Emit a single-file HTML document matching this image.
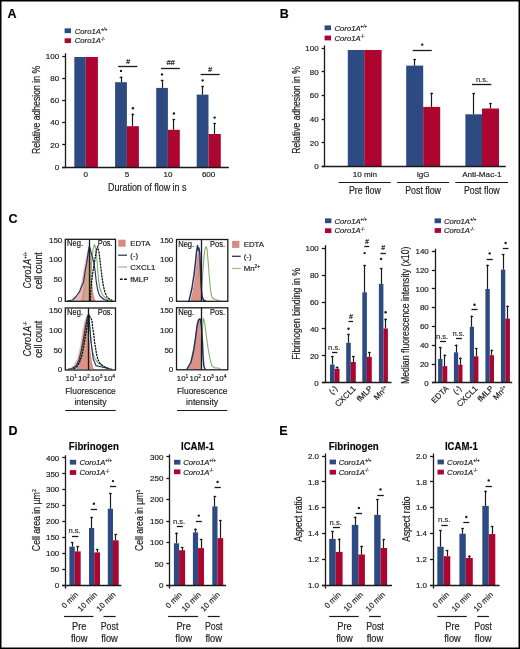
<!DOCTYPE html>
<html><head><meta charset="utf-8"><style>
html,body{margin:0;padding:0;background:#fff;}
svg{display:block;font-family:"Liberation Sans", sans-serif;will-change:transform;}
text{stroke:#222;stroke-width:0.18px;}
</style></head><body>
<svg width="520" height="649" viewBox="0 0 520 649" fill="#222">
<rect width="520" height="649" fill="#fff"/>
<text x="7.4" y="17.6" font-size="12.5" font-weight="bold" fill="#000">A</text>
<rect x="64.6" y="28.35" width="6.4" height="4.8" fill="#2e4a82"/>
<rect x="64.6" y="38.3" width="6.4" height="4.8" fill="#ab0530"/>
<text x="74.8" y="33.52" font-size="7.7" font-style="italic">Coro1A<tspan font-size="4.47" dy="-2.54" font-style="normal">+/+</tspan></text>
<text x="74.8" y="43.47" font-size="7.7" font-style="italic">Coro1A<tspan font-size="4.47" dy="-2.54" font-style="normal">-/-</tspan></text>
<line x1="65.5" y1="53.3" x2="65.5" y2="167.6" stroke="#1a1a1a" stroke-width="1.3"/>
<line x1="62.2" y1="56.5" x2="65.4" y2="56.5" stroke="#1a1a1a" stroke-width="1.3"/>
<text x="59.2" y="58.84" font-size="8" text-anchor="end">100</text>
<line x1="62.2" y1="78.5" x2="65.4" y2="78.5" stroke="#1a1a1a" stroke-width="1.3"/>
<text x="59.2" y="81.04" font-size="8" text-anchor="end">80</text>
<line x1="62.2" y1="100.5" x2="65.4" y2="100.5" stroke="#1a1a1a" stroke-width="1.3"/>
<text x="59.2" y="103.24" font-size="8" text-anchor="end">60</text>
<line x1="62.2" y1="122.5" x2="65.4" y2="122.5" stroke="#1a1a1a" stroke-width="1.3"/>
<text x="59.2" y="125.44" font-size="8" text-anchor="end">40</text>
<line x1="62.2" y1="144.5" x2="65.4" y2="144.5" stroke="#1a1a1a" stroke-width="1.3"/>
<text x="59.2" y="147.64" font-size="8" text-anchor="end">20</text>
<line x1="62.2" y1="167.5" x2="65.4" y2="167.5" stroke="#1a1a1a" stroke-width="1.3"/>
<text x="59.2" y="169.84" font-size="8" text-anchor="end">0</text>
<rect x="74.3" y="57" width="11.5" height="110" fill="#2e4a82"/>
<rect x="85.8" y="57" width="12.1" height="110" fill="#ab0530"/>
<rect x="115.1" y="82.2" width="11.8" height="84.8" fill="#2e4a82"/>
<rect x="126.9" y="126.2" width="12" height="40.8" fill="#ab0530"/>
<rect x="156.2" y="87.9" width="11.7" height="79.1" fill="#2e4a82"/>
<rect x="167.9" y="129.8" width="11.9" height="37.2" fill="#ab0530"/>
<rect x="196.7" y="94.6" width="11.8" height="72.4" fill="#2e4a82"/>
<rect x="208.5" y="134" width="12.3" height="33" fill="#ab0530"/>
<line x1="121.5" y1="82.2" x2="121.5" y2="76.5" stroke="#1a1a1a" stroke-width="1.2"/>
<line x1="119.7" y1="77.5" x2="122.3" y2="77.5" stroke="#1a1a1a" stroke-width="1.3"/>
<line x1="132.5" y1="126.2" x2="132.5" y2="113.5" stroke="#1a1a1a" stroke-width="1.2"/>
<line x1="131.6" y1="114.5" x2="134.2" y2="114.5" stroke="#1a1a1a" stroke-width="1.3"/>
<line x1="162.5" y1="87.9" x2="162.5" y2="79.8" stroke="#1a1a1a" stroke-width="1.2"/>
<line x1="160.75" y1="80.5" x2="163.35" y2="80.5" stroke="#1a1a1a" stroke-width="1.3"/>
<line x1="173.5" y1="129.8" x2="173.5" y2="119.3" stroke="#1a1a1a" stroke-width="1.2"/>
<line x1="172.55" y1="119.5" x2="175.15" y2="119.5" stroke="#1a1a1a" stroke-width="1.3"/>
<line x1="202.5" y1="94.6" x2="202.5" y2="86" stroke="#1a1a1a" stroke-width="1.2"/>
<line x1="201.3" y1="86.5" x2="203.9" y2="86.5" stroke="#1a1a1a" stroke-width="1.3"/>
<line x1="214.5" y1="134" x2="214.5" y2="123" stroke="#1a1a1a" stroke-width="1.2"/>
<line x1="213.35" y1="123.5" x2="215.95" y2="123.5" stroke="#1a1a1a" stroke-width="1.3"/>
<line x1="62.2" y1="167.5" x2="228.8" y2="167.5" stroke="#1a1a1a" stroke-width="1.3"/>
<circle cx="121" cy="70.9" r="1.2" fill="#1a1a1a"/>
<circle cx="132.9" cy="108.2" r="1.2" fill="#1a1a1a"/>
<circle cx="162" cy="74.4" r="1.2" fill="#1a1a1a"/>
<circle cx="173.9" cy="113.5" r="1.2" fill="#1a1a1a"/>
<circle cx="202.6" cy="80.4" r="1.2" fill="#1a1a1a"/>
<circle cx="214.6" cy="117.6" r="1.2" fill="#1a1a1a"/>
<line x1="118.1" y1="66.5" x2="137.4" y2="66.5" stroke="#1a1a1a" stroke-width="1.3"/>
<text x="128" y="63.5" font-size="7.4" text-anchor="middle" font-style="italic">#</text>
<line x1="161" y1="68.5" x2="179.8" y2="68.5" stroke="#1a1a1a" stroke-width="1.3"/>
<text x="170.6" y="65" font-size="7.4" text-anchor="middle" font-style="italic">##</text>
<line x1="200.6" y1="74.5" x2="219.6" y2="74.5" stroke="#1a1a1a" stroke-width="1.3"/>
<text x="210" y="71.6" font-size="7.4" text-anchor="middle" font-style="italic">#</text>
<text x="85.8" y="177.2" font-size="8" text-anchor="middle">0</text>
<text x="126.9" y="177.2" font-size="8" text-anchor="middle">5</text>
<text x="168" y="177.2" font-size="8" text-anchor="middle">10</text>
<text x="208.6" y="177.2" font-size="8" text-anchor="middle">600</text>
<text x="147.3" y="190.7" font-size="10.3" text-anchor="middle" textLength="78.4" lengthAdjust="spacingAndGlyphs">Duration of flow in s</text>
<text x="39.8" y="110" font-size="10.3" text-anchor="middle" textLength="88.2" lengthAdjust="spacingAndGlyphs" transform="rotate(-90 39.8 110)">Relative adhesion in %</text>
<text x="279.8" y="17.6" font-size="12.5" font-weight="bold" fill="#000">B</text>
<rect x="324.6" y="25.4" width="6.4" height="4.8" fill="#2e4a82"/>
<rect x="324.6" y="35.6" width="6.4" height="4.8" fill="#ab0530"/>
<text x="334.5" y="30.57" font-size="7.7" font-style="italic">Coro1A<tspan font-size="4.47" dy="-2.54" font-style="normal">+/+</tspan></text>
<text x="334.5" y="40.77" font-size="7.7" font-style="italic">Coro1A<tspan font-size="4.47" dy="-2.54" font-style="normal">-/-</tspan></text>
<line x1="324.5" y1="45.5" x2="324.5" y2="166.5" stroke="#1a1a1a" stroke-width="1.3"/>
<line x1="321.6" y1="48.5" x2="324.8" y2="48.5" stroke="#1a1a1a" stroke-width="1.3"/>
<text x="318.6" y="50.94" font-size="8" text-anchor="end">100</text>
<line x1="321.6" y1="71.5" x2="324.8" y2="71.5" stroke="#1a1a1a" stroke-width="1.3"/>
<text x="318.6" y="74.64" font-size="8" text-anchor="end">80</text>
<line x1="321.6" y1="95.5" x2="324.8" y2="95.5" stroke="#1a1a1a" stroke-width="1.3"/>
<text x="318.6" y="98.34" font-size="8" text-anchor="end">60</text>
<line x1="321.6" y1="119.5" x2="324.8" y2="119.5" stroke="#1a1a1a" stroke-width="1.3"/>
<text x="318.6" y="122.04" font-size="8" text-anchor="end">40</text>
<line x1="321.6" y1="142.5" x2="324.8" y2="142.5" stroke="#1a1a1a" stroke-width="1.3"/>
<text x="318.6" y="145.74" font-size="8" text-anchor="end">20</text>
<line x1="321.6" y1="166.5" x2="324.8" y2="166.5" stroke="#1a1a1a" stroke-width="1.3"/>
<text x="318.6" y="169.34" font-size="8" text-anchor="end">0</text>
<rect x="347.8" y="50" width="16.4" height="116.5" fill="#2e4a82"/>
<rect x="364.2" y="50" width="17.4" height="116.5" fill="#ab0530"/>
<rect x="406.2" y="65.6" width="17" height="100.9" fill="#2e4a82"/>
<rect x="423.2" y="106.9" width="17" height="59.6" fill="#ab0530"/>
<rect x="465.4" y="114.3" width="16.6" height="52.2" fill="#2e4a82"/>
<rect x="482" y="108.5" width="17" height="58" fill="#ab0530"/>
<line x1="414.5" y1="65.6" x2="414.5" y2="59" stroke="#1a1a1a" stroke-width="1.2"/>
<line x1="413.4" y1="59.5" x2="416" y2="59.5" stroke="#1a1a1a" stroke-width="1.3"/>
<line x1="431.5" y1="106.9" x2="431.5" y2="92.7" stroke="#1a1a1a" stroke-width="1.2"/>
<line x1="430.4" y1="93.5" x2="433" y2="93.5" stroke="#1a1a1a" stroke-width="1.3"/>
<line x1="473.5" y1="114.3" x2="473.5" y2="93" stroke="#1a1a1a" stroke-width="1.2"/>
<line x1="472.4" y1="93.5" x2="475" y2="93.5" stroke="#1a1a1a" stroke-width="1.3"/>
<line x1="490.5" y1="108.5" x2="490.5" y2="103" stroke="#1a1a1a" stroke-width="1.2"/>
<line x1="489.2" y1="103.5" x2="491.8" y2="103.5" stroke="#1a1a1a" stroke-width="1.3"/>
<line x1="321.8" y1="166.5" x2="505.8" y2="166.5" stroke="#1a1a1a" stroke-width="1.3"/>
<line x1="412.7" y1="50.5" x2="431.8" y2="50.5" stroke="#1a1a1a" stroke-width="1.3"/>
<circle cx="422.2" cy="44.6" r="1.2" fill="#1a1a1a"/>
<line x1="472" y1="84.5" x2="491.3" y2="84.5" stroke="#1a1a1a" stroke-width="1.3"/>
<text x="482" y="82.4" font-size="8" text-anchor="middle" fill="#333" textLength="12.2" lengthAdjust="spacingAndGlyphs">n.s.</text>
<text x="364.9" y="177.3" font-size="7.8" text-anchor="middle" textLength="24.4" lengthAdjust="spacingAndGlyphs">10 min</text>
<text x="423.1" y="177.4" font-size="8" text-anchor="middle" textLength="12.9" lengthAdjust="spacingAndGlyphs">IgG</text>
<text x="481.8" y="177.3" font-size="7.8" text-anchor="middle" textLength="39.3" lengthAdjust="spacingAndGlyphs">Anti-Mac-1</text>
<line x1="338.5" y1="182.5" x2="390.7" y2="182.5" stroke="#1a1a1a" stroke-width="1.2"/>
<line x1="397.1" y1="182.5" x2="449.2" y2="182.5" stroke="#1a1a1a" stroke-width="1.2"/>
<line x1="455.4" y1="182.5" x2="508.1" y2="182.5" stroke="#1a1a1a" stroke-width="1.2"/>
<text x="364.9" y="194" font-size="10" text-anchor="middle" textLength="31.9" lengthAdjust="spacingAndGlyphs">Pre flow</text>
<text x="423.1" y="194" font-size="10" text-anchor="middle" textLength="35.8" lengthAdjust="spacingAndGlyphs">Post flow</text>
<text x="481.8" y="194" font-size="10" text-anchor="middle" textLength="35.8" lengthAdjust="spacingAndGlyphs">Post flow</text>
<text x="299.8" y="110" font-size="10.3" text-anchor="middle" textLength="87.6" lengthAdjust="spacingAndGlyphs" transform="rotate(-90 299.8 110)">Relative adhesion in %</text>
<text x="8.6" y="222.5" font-size="12.5" font-weight="bold" fill="#000">C</text>
<path d="M72 301 L76 297 L79 291 L81.5 282 L83.3 271 L85 262 L87 252 L88.5 247 L89.3 246 L90.5 253 L91.2 262 L91.5 272 L92.1 282 L93 292 L94.5 299 L95.5 301 Z" fill="#e8b9b6" stroke="none" stroke-width="1.1" stroke-linejoin="round" stroke-linecap="round"/>
<path d="M81 301 L83 290 L84.5 278 L86 265 L87.5 255 L89 249 L90.5 254 L91.2 262 L91.5 272 L92.1 282 L93 292 L94.5 299 L95.5 301 Z" fill="#dc9284" stroke="none" stroke-width="1.1" stroke-linejoin="round" stroke-linecap="round"/>
<path d="M84.5 301 L85.5 285 L86.5 272 L87.5 262 L88.5 252 L89.3 249 L89.6 301 Z" fill="#c8ab88" stroke="none" stroke-width="1.1" stroke-linejoin="round" stroke-linecap="round"/>
<path d="M89.3 300 L90.3 285 L91.2 268 L92.3 255 L93.3 248 L94.5 244.5 L95.7 248 L96.8 258 L97.6 268 L98.4 278 L99.5 287 L101.5 293 L104 296.5 L107 299.3 L110 300.5" fill="none" stroke="#7fb068" stroke-width="1.1" stroke-linejoin="round" stroke-linecap="round"/>
<path d="M68 300.7 L72.5 300 L76 296.5 L79.7 291.4 L83.6 281.6 L85.6 268.5 L86.9 262 L88.3 252 L89.3 246 L90.5 250 L92 256 L94 263 L95.2 272 L96.3 282 L97.5 289 L98.7 293.4 L100 296 L104 299.5 L108 300.7" fill="none" stroke="#1f3466" stroke-width="1.15" stroke-linejoin="round" stroke-linecap="round"/>
<path d="M90.3 300.3 L90.8 292 L91.4 284 L92.3 276 L93.5 268 L94.8 260 L96.3 251 L97.5 246.5 L99 252 L100 260 L101 269 L102 277 L103.2 285 L104.8 292 L107 297 L110 299.5 L112 300.3" fill="none" stroke="#111" stroke-width="1.3" stroke-linejoin="round" stroke-linecap="round" stroke-dasharray="1.2 1.8"/>
<path d="M69.5 369 L73 366 L76.9 359.3 L79.6 348.4 L81.9 334.7 L83.7 323.8 L85.1 320.2 L86.9 315.6 L88.3 318 L89.2 339.3 L90.5 352.9 L92.4 364.7 L93.5 369 Z" fill="#e8b9b6" stroke="none" stroke-width="1.1" stroke-linejoin="round" stroke-linecap="round"/>
<path d="M77 369 L79.5 358 L81.5 345 L83.3 332 L85 322 L86.9 316.5 L88.3 319 L89.2 339.3 L90.5 352.9 L92.4 364.7 L93.5 369 Z" fill="#dc9284" stroke="none" stroke-width="1.1" stroke-linejoin="round" stroke-linecap="round"/>
<path d="M76 368 L79.6 362.9 L82 352 L84.2 339.3 L85.8 327 L86.9 317.5 L87.8 314.7 L89 320 L90.1 330.2 L91.9 348.4 L94.2 357.5 L97.8 362.9 L103 366.5 L109 368.6" fill="none" stroke="#7fb068" stroke-width="1.1" stroke-linejoin="round" stroke-linecap="round"/>
<path d="M68 369.3 L72 368.5 L76 366 L79 360 L81 352 L83 342 L85 330 L86.8 320 L88 315.5 L89 314.5 L89.6 325.6 L91 342 L93.3 359.3 L96 365.6 L99.6 366.5 L104 367.5 L108 368.5 L112 369.3" fill="none" stroke="#1f3466" stroke-width="1.15" stroke-linejoin="round" stroke-linecap="round"/>
<path d="M74 368.6 L77 366.5 L79.6 362 L81.9 355.6 L83.3 348.4 L84.6 341.1 L85.5 335.6 L86.5 330.2 L87.8 321.1 L89.2 315.6 L91.9 320.2 L92.8 328.4 L93.7 333.8 L94.6 342 L95.3 346.5 L96.5 353.8 L97.8 359.3 L99.6 362.9 L103 366 L108 368.3" fill="none" stroke="#111" stroke-width="1.3" stroke-linejoin="round" stroke-linecap="round" stroke-dasharray="1.2 1.8"/>
<path d="M190.5 301 L193.8 285 L195.6 270 L196.9 258 L198 251 L199 250 L199.8 255 L200.2 270 L200.5 285 L201 298 L202 301 Z" fill="#dc9284" stroke="none" stroke-width="1.1" stroke-linejoin="round" stroke-linecap="round"/>
<path d="M201 300.5 L202 285 L203 270 L204 257 L205 249 L206.2 246.5 L207 249 L208 260 L209 273 L210 285 L211 294 L212.5 298 L215 299.5 L217 300 L219 300.5" fill="none" stroke="#7fb068" stroke-width="1.1" stroke-linejoin="round" stroke-linecap="round"/>
<path d="M189 301 L192 288 L194 275 L195.5 262 L196.5 252 L197.5 245.5 L198.2 250 L198.8 248 L199.8 253 L200.5 270 L201 285 L202 296 L203.5 300 L205.5 301" fill="none" stroke="#1f3466" stroke-width="1.5" stroke-linejoin="round" stroke-linecap="round"/>
<path d="M188 369 L192 358 L194.5 343 L196 331 L197.5 322 L199 320 L199.8 319.5 L200.5 328 L201 348 L201.5 364 L202 369 Z" fill="#dc9284" stroke="none" stroke-width="1.1" stroke-linejoin="round" stroke-linecap="round"/>
<path d="M201 368 L201.5 348 L202 333 L203.5 318 L205 325 L206 333 L207 341 L208 348 L209 354 L210.5 361 L212 366 L215 368 L218 368 L220 368.5" fill="none" stroke="#7fb068" stroke-width="1.1" stroke-linejoin="round" stroke-linecap="round"/>
<path d="M187 369 L191 362 L193.5 351 L195.5 338 L197 326 L198.5 320 L199.5 319 L200.5 319.5 L201.5 328 L202.5 343 L203 356 L203.8 366 L205 369" fill="none" stroke="#1f3466" stroke-width="1.5" stroke-linejoin="round" stroke-linecap="round"/>
<rect x="65.3" y="239.3" width="50.2" height="62" fill="none" stroke="#1a1a1a" stroke-width="1.3"/>
<line x1="89.5" y1="239.3" x2="89.5" y2="301.3" stroke="#1a1a1a" stroke-width="1.3"/>
<text x="67" y="246.4" font-size="8.3" fill="#111" textLength="16" lengthAdjust="spacingAndGlyphs">Neg.</text>
<text x="112.7" y="246.4" font-size="8.3" text-anchor="end" fill="#111" textLength="15" lengthAdjust="spacingAndGlyphs">Pos.</text>
<rect x="65.3" y="308" width="50.2" height="62" fill="none" stroke="#1a1a1a" stroke-width="1.3"/>
<line x1="88.5" y1="308" x2="88.5" y2="370" stroke="#1a1a1a" stroke-width="1.3"/>
<text x="67" y="315.1" font-size="8.3" fill="#111" textLength="16" lengthAdjust="spacingAndGlyphs">Neg.</text>
<text x="112.7" y="315.1" font-size="8.3" text-anchor="end" fill="#111" textLength="15" lengthAdjust="spacingAndGlyphs">Pos.</text>
<rect x="176.5" y="239.5" width="51.3" height="61.8" fill="none" stroke="#1a1a1a" stroke-width="1.3"/>
<line x1="201.5" y1="239.5" x2="201.5" y2="301.3" stroke="#1a1a1a" stroke-width="1.3"/>
<text x="178.2" y="246.6" font-size="8.3" fill="#111" textLength="16" lengthAdjust="spacingAndGlyphs">Neg.</text>
<text x="225" y="246.6" font-size="8.3" text-anchor="end" fill="#111" textLength="15" lengthAdjust="spacingAndGlyphs">Pos.</text>
<rect x="176.5" y="307.8" width="51.3" height="62" fill="none" stroke="#1a1a1a" stroke-width="1.3"/>
<line x1="201.5" y1="307.8" x2="201.5" y2="369.8" stroke="#1a1a1a" stroke-width="1.3"/>
<text x="178.2" y="314.9" font-size="8.3" fill="#111" textLength="16" lengthAdjust="spacingAndGlyphs">Neg.</text>
<text x="225" y="314.9" font-size="8.3" text-anchor="end" fill="#111" textLength="15" lengthAdjust="spacingAndGlyphs">Pos.</text>
<text x="62.3" y="242.5" font-size="8" text-anchor="end">150</text>
<text x="62.3" y="262.4" font-size="8" text-anchor="end">100</text>
<text x="62.3" y="282.3" font-size="8" text-anchor="end">50</text>
<text x="62.3" y="302.3" font-size="8" text-anchor="end">0</text>
<text x="62.3" y="313.4" font-size="8" text-anchor="end">150</text>
<text x="62.3" y="333" font-size="8" text-anchor="end">100</text>
<text x="62.3" y="352.5" font-size="8" text-anchor="end">50</text>
<text x="62.3" y="372" font-size="8" text-anchor="end">0</text>
<text x="173.3" y="242.5" font-size="8" text-anchor="end">150</text>
<text x="173.3" y="262.4" font-size="8" text-anchor="end">100</text>
<text x="173.3" y="282.3" font-size="8" text-anchor="end">50</text>
<text x="173.3" y="302.3" font-size="8" text-anchor="end">0</text>
<text x="173.3" y="313.4" font-size="8" text-anchor="end">150</text>
<text x="173.3" y="333" font-size="8" text-anchor="end">100</text>
<text x="173.3" y="352.5" font-size="8" text-anchor="end">50</text>
<text x="173.3" y="372" font-size="8" text-anchor="end">0</text>
<text x="65.4" y="380.8" font-size="7.9">10<tspan font-size="4.9" dy="-2.6">1</tspan></text>
<text x="78.12" y="380.8" font-size="7.9">10<tspan font-size="4.9" dy="-2.6">2</tspan></text>
<text x="90.85" y="380.8" font-size="7.9">10<tspan font-size="4.9" dy="-2.6">3</tspan></text>
<text x="103.57" y="380.8" font-size="7.9">10<tspan font-size="4.9" dy="-2.6">4</tspan></text>
<text x="176.8" y="380.8" font-size="7.9">10<tspan font-size="4.9" dy="-2.6">1</tspan></text>
<text x="189.52" y="380.8" font-size="7.9">10<tspan font-size="4.9" dy="-2.6">2</tspan></text>
<text x="202.25" y="380.8" font-size="7.9">10<tspan font-size="4.9" dy="-2.6">3</tspan></text>
<text x="214.97" y="380.8" font-size="7.9">10<tspan font-size="4.9" dy="-2.6">4</tspan></text>
<text x="90.5" y="394.2" font-size="9.8" text-anchor="middle" textLength="50.6" lengthAdjust="spacingAndGlyphs">Fluorescence</text>
<text x="90.5" y="405.2" font-size="9.8" text-anchor="middle" textLength="32.2" lengthAdjust="spacingAndGlyphs">intensity</text>
<line x1="65.2" y1="410.5" x2="115.8" y2="410.5" stroke="#1a1a1a" stroke-width="1.2"/>
<text x="202.15" y="394.2" font-size="9.8" text-anchor="middle" textLength="50.3" lengthAdjust="spacingAndGlyphs">Fluorescence</text>
<text x="202.15" y="405.2" font-size="9.8" text-anchor="middle" textLength="32.2" lengthAdjust="spacingAndGlyphs">intensity</text>
<line x1="177" y1="410.5" x2="227.3" y2="410.5" stroke="#1a1a1a" stroke-width="1.2"/>
<text x="31.3" y="270.2" font-size="10.3" font-style="italic" text-anchor="middle" transform="rotate(-90 31.3 270.2)" textLength="36.7" lengthAdjust="spacingAndGlyphs">Coro1A<tspan font-size="5.8" dy="-3.8" font-style="normal">+/+</tspan></text>
<text x="42.4" y="270.6" font-size="10" text-anchor="middle" textLength="36.7" lengthAdjust="spacingAndGlyphs" transform="rotate(-90 42.4 270.6)">cell count</text>
<text x="31" y="338.9" font-size="10.3" font-style="italic" text-anchor="middle" transform="rotate(-90 31 338.9)" textLength="35.4" lengthAdjust="spacingAndGlyphs">Coro1A<tspan font-size="5.8" dy="-3.8" font-style="normal">-/-</tspan></text>
<text x="42.5" y="339.3" font-size="10" text-anchor="middle" textLength="37" lengthAdjust="spacingAndGlyphs" transform="rotate(-90 42.5 339.3)">cell count</text>
<rect x="118.3" y="239.7" width="7.3" height="7" fill="#d58c80"/>
<line x1="118.1" y1="255.2" x2="127" y2="255.2" stroke="#2b3766" stroke-width="1.3"/>
<line x1="118.1" y1="267" x2="127" y2="267" stroke="#a3bf92" stroke-width="1.3"/>
<line x1="119.9" y1="279.3" x2="127" y2="279.3" stroke="#111" stroke-width="1.4" stroke-dasharray="2.8 1.4"/>
<text x="130.2" y="246" font-size="7.8">EDTA</text>
<text x="130.2" y="258" font-size="7.8">(-)</text>
<text x="130.2" y="269.8" font-size="7.8">CXCL1</text>
<text x="130.2" y="282.1" font-size="7.8">fMLP</text>
<rect x="232.1" y="240.9" width="7.3" height="7" fill="#d58c80"/>
<line x1="231.9" y1="256.3" x2="240.8" y2="256.3" stroke="#2b3766" stroke-width="1.3"/>
<line x1="231.9" y1="268.5" x2="240.8" y2="268.5" stroke="#a3bf92" stroke-width="1.3"/>
<text x="243.7" y="247.2" font-size="7.8">EDTA</text>
<text x="243.7" y="259.1" font-size="7.8">(-)</text>
<text x="243.7" y="271.3" font-size="7.8">Mn<tspan font-size="4.8" dy="-3">2+</tspan></text>
<rect x="325" y="218.4" width="6.4" height="4.8" fill="#2e4a82"/>
<rect x="325" y="228.3" width="6.4" height="4.8" fill="#ab0530"/>
<text x="334.5" y="223.57" font-size="7.7" font-style="italic">Coro1A<tspan font-size="4.47" dy="-2.54" font-style="normal">+/+</tspan></text>
<text x="334.5" y="233.47" font-size="7.7" font-style="italic">Coro1A<tspan font-size="4.47" dy="-2.54" font-style="normal">-/-</tspan></text>
<line x1="325.5" y1="245.2" x2="325.5" y2="382.7" stroke="#1a1a1a" stroke-width="1.3"/>
<line x1="321.8" y1="248.5" x2="325" y2="248.5" stroke="#1a1a1a" stroke-width="1.3"/>
<text x="318.8" y="250.84" font-size="8" text-anchor="end">100</text>
<line x1="321.8" y1="275.5" x2="325" y2="275.5" stroke="#1a1a1a" stroke-width="1.3"/>
<text x="318.8" y="277.94" font-size="8" text-anchor="end">80</text>
<line x1="321.8" y1="302.5" x2="325" y2="302.5" stroke="#1a1a1a" stroke-width="1.3"/>
<text x="318.8" y="304.84" font-size="8" text-anchor="end">60</text>
<line x1="321.8" y1="328.5" x2="325" y2="328.5" stroke="#1a1a1a" stroke-width="1.3"/>
<text x="318.8" y="331.74" font-size="8" text-anchor="end">40</text>
<line x1="321.8" y1="355.5" x2="325" y2="355.5" stroke="#1a1a1a" stroke-width="1.3"/>
<text x="318.8" y="358.64" font-size="8" text-anchor="end">20</text>
<line x1="321.8" y1="382.5" x2="325" y2="382.5" stroke="#1a1a1a" stroke-width="1.3"/>
<text x="318.8" y="385.54" font-size="8" text-anchor="end">0</text>
<rect x="330" y="364.6" width="4.6" height="18.1" fill="#2e4a82"/>
<rect x="334.6" y="368.8" width="4.9" height="13.9" fill="#ab0530"/>
<rect x="346.2" y="342.8" width="4.6" height="39.9" fill="#2e4a82"/>
<rect x="350.8" y="362" width="5" height="20.7" fill="#ab0530"/>
<rect x="362.3" y="292.3" width="4.6" height="90.4" fill="#2e4a82"/>
<rect x="366.9" y="356.9" width="4.9" height="25.8" fill="#ab0530"/>
<rect x="378.9" y="283.8" width="4.5" height="98.9" fill="#2e4a82"/>
<rect x="383.4" y="328.5" width="4.5" height="54.2" fill="#ab0530"/>
<line x1="332.5" y1="364.6" x2="332.5" y2="356.2" stroke="#1a1a1a" stroke-width="1.2"/>
<line x1="331" y1="356.5" x2="333.6" y2="356.5" stroke="#1a1a1a" stroke-width="1.3"/>
<line x1="337.5" y1="368.8" x2="337.5" y2="366.5" stroke="#1a1a1a" stroke-width="1.2"/>
<line x1="335.75" y1="367.5" x2="338.35" y2="367.5" stroke="#1a1a1a" stroke-width="1.3"/>
<line x1="348.5" y1="342.8" x2="348.5" y2="333.8" stroke="#1a1a1a" stroke-width="1.2"/>
<line x1="347.2" y1="334.5" x2="349.8" y2="334.5" stroke="#1a1a1a" stroke-width="1.3"/>
<line x1="353.5" y1="362" x2="353.5" y2="356.2" stroke="#1a1a1a" stroke-width="1.2"/>
<line x1="352" y1="356.5" x2="354.6" y2="356.5" stroke="#1a1a1a" stroke-width="1.3"/>
<line x1="364.5" y1="292.3" x2="364.5" y2="264.9" stroke="#1a1a1a" stroke-width="1.2"/>
<line x1="363.3" y1="265.5" x2="365.9" y2="265.5" stroke="#1a1a1a" stroke-width="1.3"/>
<line x1="369.5" y1="356.9" x2="369.5" y2="352.3" stroke="#1a1a1a" stroke-width="1.2"/>
<line x1="368.05" y1="352.5" x2="370.65" y2="352.5" stroke="#1a1a1a" stroke-width="1.3"/>
<line x1="381.5" y1="283.8" x2="381.5" y2="268" stroke="#1a1a1a" stroke-width="1.2"/>
<line x1="379.85" y1="268.5" x2="382.45" y2="268.5" stroke="#1a1a1a" stroke-width="1.3"/>
<line x1="385.5" y1="328.5" x2="385.5" y2="318.5" stroke="#1a1a1a" stroke-width="1.2"/>
<line x1="384.35" y1="319.5" x2="386.95" y2="319.5" stroke="#1a1a1a" stroke-width="1.3"/>
<line x1="322" y1="382.5" x2="391.5" y2="382.5" stroke="#1a1a1a" stroke-width="1.3"/>
<line x1="332" y1="352.5" x2="337.4" y2="352.5" stroke="#1a1a1a" stroke-width="1.3"/>
<text x="334.2" y="350.1" font-size="8" text-anchor="middle" fill="#333" textLength="12.2" lengthAdjust="spacingAndGlyphs">n.s.</text>
<circle cx="348.5" cy="328.8" r="1.2" fill="#1a1a1a"/>
<line x1="348.5" y1="321.5" x2="353" y2="321.5" stroke="#1a1a1a" stroke-width="1.3"/>
<text x="350.9" y="319" font-size="6.8" text-anchor="middle" font-style="italic">#</text>
<circle cx="364.6" cy="253.1" r="1.2" fill="#1a1a1a"/>
<line x1="364.3" y1="246.5" x2="369.2" y2="246.5" stroke="#1a1a1a" stroke-width="1.3"/>
<text x="366.9" y="243.7" font-size="6.8" text-anchor="middle" font-style="italic">#</text>
<circle cx="381.1" cy="258.9" r="1.2" fill="#1a1a1a"/>
<line x1="380.5" y1="253.5" x2="385.8" y2="253.5" stroke="#1a1a1a" stroke-width="1.3"/>
<text x="383.2" y="249.8" font-size="6.8" text-anchor="middle" font-style="italic">#</text>
<circle cx="385.6" cy="312.3" r="1.2" fill="#1a1a1a"/>
<text x="337.8" y="389" font-size="8" text-anchor="end" transform="rotate(-45 337.8 389)">(-)</text>
<text x="356.5" y="389" font-size="8" text-anchor="end" transform="rotate(-45 356.5 389)">CXCL1</text>
<text x="373.1" y="389" font-size="8" text-anchor="end" transform="rotate(-45 373.1 389)">fMLP</text>
<text x="388.6" y="389" font-size="8" text-anchor="end" transform="rotate(-45 388.6 389)">Mn<tspan font-size="4.6" dy="-2.8">2+</tspan></text>
<text x="299.8" y="313.9" font-size="10.3" text-anchor="middle" textLength="91.9" lengthAdjust="spacingAndGlyphs" transform="rotate(-90 299.8 313.9)">Fibrinogen binding in %</text>
<rect x="434.6" y="218.4" width="6.4" height="4.8" fill="#2e4a82"/>
<rect x="434.6" y="228.1" width="6.4" height="4.8" fill="#ab0530"/>
<text x="443.9" y="223.57" font-size="7.7" font-style="italic">Coro1A<tspan font-size="4.47" dy="-2.54" font-style="normal">+/+</tspan></text>
<text x="443.9" y="233.27" font-size="7.7" font-style="italic">Coro1A<tspan font-size="4.47" dy="-2.54" font-style="normal">-/-</tspan></text>
<line x1="435.5" y1="248.7" x2="435.5" y2="382.7" stroke="#1a1a1a" stroke-width="1.3"/>
<line x1="431.8" y1="251.5" x2="435" y2="251.5" stroke="#1a1a1a" stroke-width="1.3"/>
<text x="428.8" y="254.04" font-size="8" text-anchor="end">140</text>
<line x1="431.8" y1="270.5" x2="435" y2="270.5" stroke="#1a1a1a" stroke-width="1.3"/>
<text x="428.8" y="272.84" font-size="8" text-anchor="end">120</text>
<line x1="431.8" y1="288.5" x2="435" y2="288.5" stroke="#1a1a1a" stroke-width="1.3"/>
<text x="428.8" y="291.64" font-size="8" text-anchor="end">100</text>
<line x1="431.8" y1="307.5" x2="435" y2="307.5" stroke="#1a1a1a" stroke-width="1.3"/>
<text x="428.8" y="310.44" font-size="8" text-anchor="end">80</text>
<line x1="431.8" y1="326.5" x2="435" y2="326.5" stroke="#1a1a1a" stroke-width="1.3"/>
<text x="428.8" y="329.24" font-size="8" text-anchor="end">60</text>
<line x1="431.8" y1="345.5" x2="435" y2="345.5" stroke="#1a1a1a" stroke-width="1.3"/>
<text x="428.8" y="348.04" font-size="8" text-anchor="end">40</text>
<line x1="431.8" y1="364.5" x2="435" y2="364.5" stroke="#1a1a1a" stroke-width="1.3"/>
<text x="428.8" y="366.84" font-size="8" text-anchor="end">20</text>
<line x1="431.8" y1="382.5" x2="435" y2="382.5" stroke="#1a1a1a" stroke-width="1.3"/>
<text x="428.8" y="385.54" font-size="8" text-anchor="end">0</text>
<rect x="438.1" y="358.9" width="4.4" height="23.8" fill="#2e4a82"/>
<rect x="442.5" y="366.1" width="4.8" height="16.6" fill="#ab0530"/>
<rect x="453.9" y="352.3" width="4.3" height="30.4" fill="#2e4a82"/>
<rect x="458.2" y="364.7" width="4.3" height="18" fill="#ab0530"/>
<rect x="469.8" y="326.7" width="4.2" height="56" fill="#2e4a82"/>
<rect x="474" y="356.3" width="4.4" height="26.4" fill="#ab0530"/>
<rect x="485.4" y="289" width="4.4" height="93.7" fill="#2e4a82"/>
<rect x="489.8" y="355.2" width="4.2" height="27.5" fill="#ab0530"/>
<rect x="500.9" y="269.6" width="4.4" height="113.1" fill="#2e4a82"/>
<rect x="505.3" y="318.5" width="4.6" height="64.2" fill="#ab0530"/>
<line x1="440.5" y1="358.9" x2="440.5" y2="347.1" stroke="#1a1a1a" stroke-width="1.2"/>
<line x1="439" y1="347.5" x2="441.6" y2="347.5" stroke="#1a1a1a" stroke-width="1.3"/>
<line x1="444.5" y1="366.1" x2="444.5" y2="354.5" stroke="#1a1a1a" stroke-width="1.2"/>
<line x1="443.6" y1="355.5" x2="446.2" y2="355.5" stroke="#1a1a1a" stroke-width="1.3"/>
<line x1="456.5" y1="352.3" x2="456.5" y2="344.5" stroke="#1a1a1a" stroke-width="1.2"/>
<line x1="454.75" y1="345.5" x2="457.35" y2="345.5" stroke="#1a1a1a" stroke-width="1.3"/>
<line x1="460.5" y1="364.7" x2="460.5" y2="357.5" stroke="#1a1a1a" stroke-width="1.2"/>
<line x1="459.05" y1="358.5" x2="461.65" y2="358.5" stroke="#1a1a1a" stroke-width="1.3"/>
<line x1="471.5" y1="326.7" x2="471.5" y2="315.6" stroke="#1a1a1a" stroke-width="1.2"/>
<line x1="470.6" y1="316.5" x2="473.2" y2="316.5" stroke="#1a1a1a" stroke-width="1.3"/>
<line x1="476.5" y1="356.3" x2="476.5" y2="348.3" stroke="#1a1a1a" stroke-width="1.2"/>
<line x1="474.9" y1="348.5" x2="477.5" y2="348.5" stroke="#1a1a1a" stroke-width="1.3"/>
<line x1="487.5" y1="289" x2="487.5" y2="264.7" stroke="#1a1a1a" stroke-width="1.2"/>
<line x1="486.3" y1="265.5" x2="488.9" y2="265.5" stroke="#1a1a1a" stroke-width="1.3"/>
<line x1="491.5" y1="355.2" x2="491.5" y2="349.7" stroke="#1a1a1a" stroke-width="1.2"/>
<line x1="490.6" y1="350.5" x2="493.2" y2="350.5" stroke="#1a1a1a" stroke-width="1.3"/>
<line x1="503.5" y1="269.6" x2="503.5" y2="254.3" stroke="#1a1a1a" stroke-width="1.2"/>
<line x1="501.8" y1="254.5" x2="504.4" y2="254.5" stroke="#1a1a1a" stroke-width="1.3"/>
<line x1="507.5" y1="318.5" x2="507.5" y2="305.6" stroke="#1a1a1a" stroke-width="1.2"/>
<line x1="506.3" y1="306.5" x2="508.9" y2="306.5" stroke="#1a1a1a" stroke-width="1.3"/>
<line x1="432" y1="382.5" x2="512.2" y2="382.5" stroke="#1a1a1a" stroke-width="1.3"/>
<line x1="440" y1="341.5" x2="445.9" y2="341.5" stroke="#1a1a1a" stroke-width="1.3"/>
<text x="442.1" y="338.8" font-size="8" text-anchor="middle" fill="#333" textLength="12.2" lengthAdjust="spacingAndGlyphs">n.s.</text>
<line x1="456" y1="338.5" x2="462" y2="338.5" stroke="#1a1a1a" stroke-width="1.3"/>
<text x="458.5" y="336.2" font-size="8" text-anchor="middle" fill="#333" textLength="12.2" lengthAdjust="spacingAndGlyphs">n.s.</text>
<line x1="471.5" y1="309.5" x2="477.6" y2="309.5" stroke="#1a1a1a" stroke-width="1.3"/>
<circle cx="474.5" cy="304.7" r="1.2" fill="#1a1a1a"/>
<line x1="486.6" y1="259.5" x2="492.8" y2="259.5" stroke="#1a1a1a" stroke-width="1.3"/>
<circle cx="489.7" cy="253.4" r="1.2" fill="#1a1a1a"/>
<line x1="502.8" y1="248.5" x2="508.5" y2="248.5" stroke="#1a1a1a" stroke-width="1.3"/>
<circle cx="505.6" cy="243" r="1.2" fill="#1a1a1a"/>
<text x="449.2" y="389" font-size="8" text-anchor="end" transform="rotate(-45 449.2 389)">EDTA</text>
<text x="461.9" y="389" font-size="8" text-anchor="end" transform="rotate(-45 461.9 389)">(-)</text>
<text x="478.2" y="389" font-size="8" text-anchor="end" transform="rotate(-45 478.2 389)">CXCL1</text>
<text x="494" y="389" font-size="8" text-anchor="end" transform="rotate(-45 494 389)">fMLP</text>
<text x="507.8" y="389" font-size="8" text-anchor="end" transform="rotate(-45 507.8 389)">Mn<tspan font-size="4.6" dy="-2.8">2+</tspan></text>
<text x="409.4" y="315.3" font-size="10.3" text-anchor="middle" textLength="137.6" lengthAdjust="spacingAndGlyphs" transform="rotate(-90 409.4 315.3)">Median fluorescence intensity (x10)</text>
<text x="8.6" y="435" font-size="12.5" font-weight="bold" fill="#000">D</text>
<text x="93.8" y="449.6" font-size="10.5" text-anchor="middle" font-weight="bold" fill="#000" textLength="50" lengthAdjust="spacingAndGlyphs">Fibrinogen</text>
<rect x="69.8" y="459.8" width="6.4" height="4.8" fill="#2e4a82"/>
<rect x="69.8" y="470.1" width="6.4" height="4.8" fill="#ab0530"/>
<text x="79.4" y="464.97" font-size="7.7" font-style="italic">Coro1A<tspan font-size="4.47" dy="-2.54" font-style="normal">+/+</tspan></text>
<text x="79.4" y="475.27" font-size="7.7" font-style="italic">Coro1A<tspan font-size="4.47" dy="-2.54" font-style="normal">-/-</tspan></text>
<line x1="65.5" y1="455.3" x2="65.5" y2="588.6" stroke="#1a1a1a" stroke-width="1.3"/>
<line x1="62.3" y1="457.5" x2="65.5" y2="457.5" stroke="#1a1a1a" stroke-width="1.3"/>
<text x="59.3" y="460.64" font-size="8" text-anchor="end">400</text>
<line x1="62.3" y1="473.5" x2="65.5" y2="473.5" stroke="#1a1a1a" stroke-width="1.3"/>
<text x="59.3" y="476.54" font-size="8" text-anchor="end">350</text>
<line x1="62.3" y1="489.5" x2="65.5" y2="489.5" stroke="#1a1a1a" stroke-width="1.3"/>
<text x="59.3" y="492.44" font-size="8" text-anchor="end">300</text>
<line x1="62.3" y1="505.5" x2="65.5" y2="505.5" stroke="#1a1a1a" stroke-width="1.3"/>
<text x="59.3" y="508.34" font-size="8" text-anchor="end">250</text>
<line x1="62.3" y1="521.5" x2="65.5" y2="521.5" stroke="#1a1a1a" stroke-width="1.3"/>
<text x="59.3" y="524.34" font-size="8" text-anchor="end">200</text>
<line x1="62.3" y1="537.5" x2="65.5" y2="537.5" stroke="#1a1a1a" stroke-width="1.3"/>
<text x="59.3" y="540.24" font-size="8" text-anchor="end">150</text>
<line x1="62.3" y1="553.5" x2="65.5" y2="553.5" stroke="#1a1a1a" stroke-width="1.3"/>
<text x="59.3" y="556.14" font-size="8" text-anchor="end">100</text>
<line x1="62.3" y1="569.5" x2="65.5" y2="569.5" stroke="#1a1a1a" stroke-width="1.3"/>
<text x="59.3" y="572.04" font-size="8" text-anchor="end">50</text>
<line x1="62.3" y1="585.5" x2="65.5" y2="585.5" stroke="#1a1a1a" stroke-width="1.3"/>
<text x="59.3" y="587.94" font-size="8" text-anchor="end">0</text>
<rect x="69.4" y="546.7" width="5.4" height="38.4" fill="#2e4a82"/>
<rect x="74.8" y="551.4" width="5.9" height="33.7" fill="#ab0530"/>
<rect x="89" y="528" width="5.2" height="57.1" fill="#2e4a82"/>
<rect x="94.2" y="552.4" width="5.8" height="32.7" fill="#ab0530"/>
<rect x="107.8" y="508.7" width="5.2" height="76.4" fill="#2e4a82"/>
<rect x="113" y="540.3" width="5.7" height="44.8" fill="#ab0530"/>
<line x1="72.5" y1="546.7" x2="72.5" y2="542" stroke="#1a1a1a" stroke-width="1.2"/>
<line x1="70.8" y1="542.5" x2="73.4" y2="542.5" stroke="#1a1a1a" stroke-width="1.3"/>
<line x1="77.5" y1="551.4" x2="77.5" y2="546.2" stroke="#1a1a1a" stroke-width="1.2"/>
<line x1="76.45" y1="546.5" x2="79.05" y2="546.5" stroke="#1a1a1a" stroke-width="1.3"/>
<line x1="91.5" y1="528" x2="91.5" y2="516.8" stroke="#1a1a1a" stroke-width="1.2"/>
<line x1="90.3" y1="517.5" x2="92.9" y2="517.5" stroke="#1a1a1a" stroke-width="1.3"/>
<line x1="97.5" y1="552.4" x2="97.5" y2="548.8" stroke="#1a1a1a" stroke-width="1.2"/>
<line x1="95.8" y1="549.5" x2="98.4" y2="549.5" stroke="#1a1a1a" stroke-width="1.3"/>
<line x1="110.5" y1="508.7" x2="110.5" y2="493.3" stroke="#1a1a1a" stroke-width="1.2"/>
<line x1="109.1" y1="493.5" x2="111.7" y2="493.5" stroke="#1a1a1a" stroke-width="1.3"/>
<line x1="115.5" y1="540.3" x2="115.5" y2="534.1" stroke="#1a1a1a" stroke-width="1.2"/>
<line x1="114.55" y1="534.5" x2="117.15" y2="534.5" stroke="#1a1a1a" stroke-width="1.3"/>
<line x1="62.2" y1="585.5" x2="121.3" y2="585.5" stroke="#1a1a1a" stroke-width="1.3"/>
<line x1="72" y1="536.5" x2="78.4" y2="536.5" stroke="#1a1a1a" stroke-width="1.3"/>
<text x="74.6" y="533.2" font-size="8" text-anchor="middle" fill="#333" textLength="12.2" lengthAdjust="spacingAndGlyphs">n.s.</text>
<line x1="90.7" y1="509.5" x2="97.1" y2="509.5" stroke="#1a1a1a" stroke-width="1.3"/>
<circle cx="93.9" cy="503.8" r="1.2" fill="#1a1a1a"/>
<line x1="110" y1="486.5" x2="116.1" y2="486.5" stroke="#1a1a1a" stroke-width="1.3"/>
<circle cx="113" cy="481.1" r="1.2" fill="#1a1a1a"/>
<text x="39.7" y="520.2" font-size="10.3" text-anchor="middle" transform="rotate(-90 39.7 520.2)" textLength="61.9" lengthAdjust="spacingAndGlyphs">Cell area in µm<tspan font-size="6" dy="-3.9">2</tspan></text>
<text x="197.5" y="449.6" font-size="10.5" text-anchor="middle" font-weight="bold" fill="#000" textLength="33" lengthAdjust="spacingAndGlyphs">ICAM-1</text>
<rect x="174" y="459.8" width="6.4" height="4.8" fill="#2e4a82"/>
<rect x="174" y="469.4" width="6.4" height="4.8" fill="#ab0530"/>
<text x="183.3" y="464.97" font-size="7.7" font-style="italic">Coro1A<tspan font-size="4.47" dy="-2.54" font-style="normal">+/+</tspan></text>
<text x="183.3" y="474.57" font-size="7.7" font-style="italic">Coro1A<tspan font-size="4.47" dy="-2.54" font-style="normal">-/-</tspan></text>
<line x1="169.5" y1="454.4" x2="169.5" y2="588.6" stroke="#1a1a1a" stroke-width="1.3"/>
<line x1="166.4" y1="456.5" x2="169.6" y2="456.5" stroke="#1a1a1a" stroke-width="1.3"/>
<text x="163.4" y="459.74" font-size="8" text-anchor="end">300</text>
<line x1="166.4" y1="478.5" x2="169.6" y2="478.5" stroke="#1a1a1a" stroke-width="1.3"/>
<text x="163.4" y="481.14" font-size="8" text-anchor="end">250</text>
<line x1="166.4" y1="499.5" x2="169.6" y2="499.5" stroke="#1a1a1a" stroke-width="1.3"/>
<text x="163.4" y="502.44" font-size="8" text-anchor="end">200</text>
<line x1="166.4" y1="521.5" x2="169.6" y2="521.5" stroke="#1a1a1a" stroke-width="1.3"/>
<text x="163.4" y="523.84" font-size="8" text-anchor="end">150</text>
<line x1="166.4" y1="542.5" x2="169.6" y2="542.5" stroke="#1a1a1a" stroke-width="1.3"/>
<text x="163.4" y="545.24" font-size="8" text-anchor="end">100</text>
<line x1="166.4" y1="563.5" x2="169.6" y2="563.5" stroke="#1a1a1a" stroke-width="1.3"/>
<text x="163.4" y="566.64" font-size="8" text-anchor="end">50</text>
<line x1="166.4" y1="585.5" x2="169.6" y2="585.5" stroke="#1a1a1a" stroke-width="1.3"/>
<text x="163.4" y="587.94" font-size="8" text-anchor="end">0</text>
<rect x="173.9" y="543.3" width="5.2" height="41.8" fill="#2e4a82"/>
<rect x="179.1" y="550.2" width="6" height="34.9" fill="#ab0530"/>
<rect x="192.9" y="532.4" width="5.2" height="52.7" fill="#2e4a82"/>
<rect x="198.1" y="548.1" width="5.9" height="37" fill="#ab0530"/>
<rect x="212.3" y="506.4" width="5.2" height="78.7" fill="#2e4a82"/>
<rect x="217.5" y="538.1" width="5.7" height="47" fill="#ab0530"/>
<line x1="176.5" y1="543.3" x2="176.5" y2="532.5" stroke="#1a1a1a" stroke-width="1.2"/>
<line x1="175.2" y1="533.5" x2="177.8" y2="533.5" stroke="#1a1a1a" stroke-width="1.3"/>
<line x1="182.5" y1="550.2" x2="182.5" y2="547.1" stroke="#1a1a1a" stroke-width="1.2"/>
<line x1="180.8" y1="547.5" x2="183.4" y2="547.5" stroke="#1a1a1a" stroke-width="1.3"/>
<line x1="195.5" y1="532.4" x2="195.5" y2="528.5" stroke="#1a1a1a" stroke-width="1.2"/>
<line x1="194.2" y1="529.5" x2="196.8" y2="529.5" stroke="#1a1a1a" stroke-width="1.3"/>
<line x1="201.5" y1="548.1" x2="201.5" y2="539.3" stroke="#1a1a1a" stroke-width="1.2"/>
<line x1="199.75" y1="539.5" x2="202.35" y2="539.5" stroke="#1a1a1a" stroke-width="1.3"/>
<line x1="214.5" y1="506.4" x2="214.5" y2="496.3" stroke="#1a1a1a" stroke-width="1.2"/>
<line x1="213.6" y1="496.5" x2="216.2" y2="496.5" stroke="#1a1a1a" stroke-width="1.3"/>
<line x1="220.5" y1="538.1" x2="220.5" y2="520.2" stroke="#1a1a1a" stroke-width="1.2"/>
<line x1="219.05" y1="520.5" x2="221.65" y2="520.5" stroke="#1a1a1a" stroke-width="1.3"/>
<line x1="166.4" y1="585.5" x2="226.1" y2="585.5" stroke="#1a1a1a" stroke-width="1.3"/>
<line x1="176.8" y1="526.5" x2="182.9" y2="526.5" stroke="#1a1a1a" stroke-width="1.3"/>
<text x="179.1" y="524" font-size="8" text-anchor="middle" fill="#333" textLength="12.2" lengthAdjust="spacingAndGlyphs">n.s.</text>
<line x1="195.8" y1="521.5" x2="201.9" y2="521.5" stroke="#1a1a1a" stroke-width="1.3"/>
<circle cx="198.8" cy="515.6" r="1.2" fill="#1a1a1a"/>
<line x1="214.6" y1="487.5" x2="220.8" y2="487.5" stroke="#1a1a1a" stroke-width="1.3"/>
<circle cx="217.6" cy="481.9" r="1.2" fill="#1a1a1a"/>
<text x="143.5" y="520.3" font-size="10.3" text-anchor="middle" transform="rotate(-90 143.5 520.3)" textLength="61.4" lengthAdjust="spacingAndGlyphs">Cell area in µm<tspan font-size="6" dy="-3.9">2</tspan></text>
<text x="78.5" y="595.2" font-size="7.9" text-anchor="end" transform="rotate(-45 78.5 595.2)">0 min</text>
<text x="97.6" y="595.2" font-size="7.9" text-anchor="end" transform="rotate(-45 97.6 595.2)">10 min</text>
<text x="116.2" y="595.2" font-size="7.9" text-anchor="end" transform="rotate(-45 116.2 595.2)">10 min</text>
<line x1="64" y1="616.5" x2="93.5" y2="616.5" stroke="#1a1a1a" stroke-width="1.2"/>
<line x1="103.5" y1="616.5" x2="115.6" y2="616.5" stroke="#1a1a1a" stroke-width="1.2"/>
<text x="79.25" y="630.1" font-size="10" text-anchor="middle" textLength="14.4" lengthAdjust="spacingAndGlyphs">Pre</text>
<text x="79.25" y="641.6" font-size="10" text-anchor="middle" textLength="16.6" lengthAdjust="spacingAndGlyphs">flow</text>
<text x="109.55" y="630.1" font-size="10" text-anchor="middle" textLength="17.6" lengthAdjust="spacingAndGlyphs">Post</text>
<text x="109.55" y="641.6" font-size="10" text-anchor="middle" textLength="16.6" lengthAdjust="spacingAndGlyphs">flow</text>
<text x="182.4" y="595.2" font-size="7.9" text-anchor="end" transform="rotate(-45 182.4 595.2)">0 min</text>
<text x="201.4" y="595.2" font-size="7.9" text-anchor="end" transform="rotate(-45 201.4 595.2)">10 min</text>
<text x="220.4" y="595.2" font-size="7.9" text-anchor="end" transform="rotate(-45 220.4 595.2)">10 min</text>
<line x1="168.1" y1="616.5" x2="198.1" y2="616.5" stroke="#1a1a1a" stroke-width="1.2"/>
<line x1="207.7" y1="616.5" x2="219.7" y2="616.5" stroke="#1a1a1a" stroke-width="1.2"/>
<text x="183.6" y="630.1" font-size="10" text-anchor="middle" textLength="14.4" lengthAdjust="spacingAndGlyphs">Pre</text>
<text x="183.6" y="641.6" font-size="10" text-anchor="middle" textLength="16.6" lengthAdjust="spacingAndGlyphs">flow</text>
<text x="213.7" y="630.1" font-size="10" text-anchor="middle" textLength="17.6" lengthAdjust="spacingAndGlyphs">Post</text>
<text x="213.7" y="641.6" font-size="10" text-anchor="middle" textLength="16.6" lengthAdjust="spacingAndGlyphs">flow</text>
<text x="279.2" y="435.4" font-size="12.5" font-weight="bold" fill="#000">E</text>
<text x="353.7" y="449.6" font-size="10.5" text-anchor="middle" font-weight="bold" fill="#000" textLength="50" lengthAdjust="spacingAndGlyphs">Fibrinogen</text>
<rect x="329.6" y="459.6" width="6.4" height="4.8" fill="#2e4a82"/>
<rect x="329.6" y="469.8" width="6.4" height="4.8" fill="#ab0530"/>
<text x="338.8" y="464.77" font-size="7.7" font-style="italic">Coro1A<tspan font-size="4.47" dy="-2.54" font-style="normal">+/+</tspan></text>
<text x="338.8" y="474.97" font-size="7.7" font-style="italic">Coro1A<tspan font-size="4.47" dy="-2.54" font-style="normal">-/-</tspan></text>
<line x1="325.5" y1="453.5" x2="325.5" y2="588.6" stroke="#1a1a1a" stroke-width="1.3"/>
<line x1="322" y1="456.5" x2="325.2" y2="456.5" stroke="#1a1a1a" stroke-width="1.3"/>
<text x="319" y="458.84" font-size="8" text-anchor="end">2.0</text>
<line x1="322" y1="481.5" x2="325.2" y2="481.5" stroke="#1a1a1a" stroke-width="1.3"/>
<text x="319" y="484.64" font-size="8" text-anchor="end">1.8</text>
<line x1="322" y1="507.5" x2="325.2" y2="507.5" stroke="#1a1a1a" stroke-width="1.3"/>
<text x="319" y="510.44" font-size="8" text-anchor="end">1.6</text>
<line x1="322" y1="533.5" x2="325.2" y2="533.5" stroke="#1a1a1a" stroke-width="1.3"/>
<text x="319" y="536.24" font-size="8" text-anchor="end">1.4</text>
<line x1="322" y1="559.5" x2="325.2" y2="559.5" stroke="#1a1a1a" stroke-width="1.3"/>
<text x="319" y="562.14" font-size="8" text-anchor="end">1.2</text>
<line x1="322" y1="585.5" x2="325.2" y2="585.5" stroke="#1a1a1a" stroke-width="1.3"/>
<text x="319" y="587.94" font-size="8" text-anchor="end">1.0</text>
<rect x="329.2" y="538.9" width="6.5" height="46.2" fill="#2e4a82"/>
<rect x="335.7" y="551.9" width="6.9" height="33.2" fill="#ab0530"/>
<rect x="351.8" y="524.9" width="6.5" height="60.2" fill="#2e4a82"/>
<rect x="358.3" y="554.5" width="6.6" height="30.6" fill="#ab0530"/>
<rect x="374.2" y="514.9" width="6.4" height="70.2" fill="#2e4a82"/>
<rect x="380.6" y="548" width="6.5" height="37.1" fill="#ab0530"/>
<line x1="332.5" y1="538.9" x2="332.5" y2="531" stroke="#1a1a1a" stroke-width="1.2"/>
<line x1="331.15" y1="531.5" x2="333.75" y2="531.5" stroke="#1a1a1a" stroke-width="1.3"/>
<line x1="339.5" y1="551.9" x2="339.5" y2="538.4" stroke="#1a1a1a" stroke-width="1.2"/>
<line x1="337.85" y1="539.5" x2="340.45" y2="539.5" stroke="#1a1a1a" stroke-width="1.3"/>
<line x1="355.5" y1="524.9" x2="355.5" y2="516.6" stroke="#1a1a1a" stroke-width="1.2"/>
<line x1="353.75" y1="517.5" x2="356.35" y2="517.5" stroke="#1a1a1a" stroke-width="1.3"/>
<line x1="361.5" y1="554.5" x2="361.5" y2="545.8" stroke="#1a1a1a" stroke-width="1.2"/>
<line x1="360.3" y1="546.5" x2="362.9" y2="546.5" stroke="#1a1a1a" stroke-width="1.3"/>
<line x1="377.5" y1="514.9" x2="377.5" y2="499.2" stroke="#1a1a1a" stroke-width="1.2"/>
<line x1="376.1" y1="499.5" x2="378.7" y2="499.5" stroke="#1a1a1a" stroke-width="1.3"/>
<line x1="383.5" y1="548" x2="383.5" y2="539.3" stroke="#1a1a1a" stroke-width="1.2"/>
<line x1="382.55" y1="539.5" x2="385.15" y2="539.5" stroke="#1a1a1a" stroke-width="1.3"/>
<line x1="322" y1="585.5" x2="392.1" y2="585.5" stroke="#1a1a1a" stroke-width="1.3"/>
<line x1="332.9" y1="527.5" x2="340" y2="527.5" stroke="#1a1a1a" stroke-width="1.3"/>
<text x="335.7" y="525.1" font-size="8" text-anchor="middle" fill="#333" textLength="12.2" lengthAdjust="spacingAndGlyphs">n.s.</text>
<line x1="355.7" y1="513.5" x2="362.1" y2="513.5" stroke="#1a1a1a" stroke-width="1.3"/>
<circle cx="358.9" cy="507.9" r="1.2" fill="#1a1a1a"/>
<line x1="377.3" y1="495.5" x2="383.8" y2="495.5" stroke="#1a1a1a" stroke-width="1.3"/>
<circle cx="380.5" cy="489.4" r="1.2" fill="#1a1a1a"/>
<text x="301.8" y="519.1" font-size="10.3" text-anchor="middle" textLength="45.2" lengthAdjust="spacingAndGlyphs" transform="rotate(-90 301.8 519.1)">Aspect ratio</text>
<text x="461.4" y="449.6" font-size="10.5" text-anchor="middle" font-weight="bold" fill="#000" textLength="33" lengthAdjust="spacingAndGlyphs">ICAM-1</text>
<rect x="437.5" y="459.6" width="6.4" height="4.8" fill="#2e4a82"/>
<rect x="437.5" y="469.7" width="6.4" height="4.8" fill="#ab0530"/>
<text x="447.1" y="464.77" font-size="7.7" font-style="italic">Coro1A<tspan font-size="4.47" dy="-2.54" font-style="normal">+/+</tspan></text>
<text x="447.1" y="474.87" font-size="7.7" font-style="italic">Coro1A<tspan font-size="4.47" dy="-2.54" font-style="normal">-/-</tspan></text>
<line x1="433.5" y1="453.5" x2="433.5" y2="588.6" stroke="#1a1a1a" stroke-width="1.3"/>
<line x1="430" y1="456.5" x2="433.2" y2="456.5" stroke="#1a1a1a" stroke-width="1.3"/>
<text x="427" y="458.84" font-size="8" text-anchor="end">2.0</text>
<line x1="430" y1="481.5" x2="433.2" y2="481.5" stroke="#1a1a1a" stroke-width="1.3"/>
<text x="427" y="484.64" font-size="8" text-anchor="end">1.8</text>
<line x1="430" y1="507.5" x2="433.2" y2="507.5" stroke="#1a1a1a" stroke-width="1.3"/>
<text x="427" y="510.44" font-size="8" text-anchor="end">1.6</text>
<line x1="430" y1="533.5" x2="433.2" y2="533.5" stroke="#1a1a1a" stroke-width="1.3"/>
<text x="427" y="536.24" font-size="8" text-anchor="end">1.4</text>
<line x1="430" y1="559.5" x2="433.2" y2="559.5" stroke="#1a1a1a" stroke-width="1.3"/>
<text x="427" y="562.14" font-size="8" text-anchor="end">1.2</text>
<line x1="430" y1="585.5" x2="433.2" y2="585.5" stroke="#1a1a1a" stroke-width="1.3"/>
<text x="427" y="587.94" font-size="8" text-anchor="end">1.0</text>
<rect x="437.3" y="546.7" width="6.4" height="38.4" fill="#2e4a82"/>
<rect x="443.7" y="556.2" width="6.6" height="28.9" fill="#ab0530"/>
<rect x="459.4" y="533.7" width="6.4" height="51.4" fill="#2e4a82"/>
<rect x="465.8" y="558" width="7" height="27.1" fill="#ab0530"/>
<rect x="482.3" y="505.9" width="6.5" height="79.2" fill="#2e4a82"/>
<rect x="488.8" y="534.1" width="6.5" height="51" fill="#ab0530"/>
<line x1="440.5" y1="546.7" x2="440.5" y2="530.3" stroke="#1a1a1a" stroke-width="1.2"/>
<line x1="439.2" y1="530.5" x2="441.8" y2="530.5" stroke="#1a1a1a" stroke-width="1.3"/>
<line x1="447.5" y1="556.2" x2="447.5" y2="550.2" stroke="#1a1a1a" stroke-width="1.2"/>
<line x1="445.7" y1="550.5" x2="448.3" y2="550.5" stroke="#1a1a1a" stroke-width="1.3"/>
<line x1="462.5" y1="533.7" x2="462.5" y2="528.2" stroke="#1a1a1a" stroke-width="1.2"/>
<line x1="461.3" y1="528.5" x2="463.9" y2="528.5" stroke="#1a1a1a" stroke-width="1.3"/>
<line x1="469.5" y1="558" x2="469.5" y2="555.4" stroke="#1a1a1a" stroke-width="1.2"/>
<line x1="468" y1="556.5" x2="470.6" y2="556.5" stroke="#1a1a1a" stroke-width="1.3"/>
<line x1="485.5" y1="505.9" x2="485.5" y2="490.6" stroke="#1a1a1a" stroke-width="1.2"/>
<line x1="484.25" y1="491.5" x2="486.85" y2="491.5" stroke="#1a1a1a" stroke-width="1.3"/>
<line x1="492.5" y1="534.1" x2="492.5" y2="526" stroke="#1a1a1a" stroke-width="1.2"/>
<line x1="490.75" y1="526.5" x2="493.35" y2="526.5" stroke="#1a1a1a" stroke-width="1.3"/>
<line x1="430" y1="585.5" x2="499.6" y2="585.5" stroke="#1a1a1a" stroke-width="1.3"/>
<line x1="441.3" y1="525.5" x2="447.7" y2="525.5" stroke="#1a1a1a" stroke-width="1.3"/>
<text x="444.2" y="522.3" font-size="8" text-anchor="middle" fill="#333" textLength="12.2" lengthAdjust="spacingAndGlyphs">n.s.</text>
<line x1="463.3" y1="522.5" x2="469.3" y2="522.5" stroke="#1a1a1a" stroke-width="1.3"/>
<circle cx="466.3" cy="517" r="1.2" fill="#1a1a1a"/>
<line x1="485.6" y1="486.5" x2="491.9" y2="486.5" stroke="#1a1a1a" stroke-width="1.3"/>
<circle cx="488.7" cy="480.4" r="1.2" fill="#1a1a1a"/>
<text x="409.8" y="519.1" font-size="10.3" text-anchor="middle" textLength="45.2" lengthAdjust="spacingAndGlyphs" transform="rotate(-90 409.8 519.1)">Aspect ratio</text>
<text x="341.3" y="595.2" font-size="7.9" text-anchor="end" transform="rotate(-45 341.3 595.2)">0 min</text>
<text x="363.5" y="595.2" font-size="7.9" text-anchor="end" transform="rotate(-45 363.5 595.2)">10 min</text>
<text x="385.6" y="595.2" font-size="7.9" text-anchor="end" transform="rotate(-45 385.6 595.2)">10 min</text>
<line x1="329.2" y1="616.5" x2="358.7" y2="616.5" stroke="#1a1a1a" stroke-width="1.2"/>
<line x1="369.2" y1="616.5" x2="380.8" y2="616.5" stroke="#1a1a1a" stroke-width="1.2"/>
<text x="344.45" y="630.1" font-size="10" text-anchor="middle" textLength="14.4" lengthAdjust="spacingAndGlyphs">Pre</text>
<text x="344.45" y="641.6" font-size="10" text-anchor="middle" textLength="16.6" lengthAdjust="spacingAndGlyphs">flow</text>
<text x="375" y="630.1" font-size="10" text-anchor="middle" textLength="17.6" lengthAdjust="spacingAndGlyphs">Post</text>
<text x="375" y="641.6" font-size="10" text-anchor="middle" textLength="16.6" lengthAdjust="spacingAndGlyphs">flow</text>
<text x="449.5" y="595.2" font-size="7.9" text-anchor="end" transform="rotate(-45 449.5 595.2)">0 min</text>
<text x="471.5" y="595.2" font-size="7.9" text-anchor="end" transform="rotate(-45 471.5 595.2)">10 min</text>
<text x="493.6" y="595.2" font-size="7.9" text-anchor="end" transform="rotate(-45 493.6 595.2)">10 min</text>
<line x1="437.3" y1="616.5" x2="466.8" y2="616.5" stroke="#1a1a1a" stroke-width="1.2"/>
<line x1="477.3" y1="616.5" x2="488.9" y2="616.5" stroke="#1a1a1a" stroke-width="1.2"/>
<text x="452.55" y="630.1" font-size="10" text-anchor="middle" textLength="14.4" lengthAdjust="spacingAndGlyphs">Pre</text>
<text x="452.55" y="641.6" font-size="10" text-anchor="middle" textLength="16.6" lengthAdjust="spacingAndGlyphs">flow</text>
<text x="483.1" y="630.1" font-size="10" text-anchor="middle" textLength="17.6" lengthAdjust="spacingAndGlyphs">Post</text>
<text x="483.1" y="641.6" font-size="10" text-anchor="middle" textLength="16.6" lengthAdjust="spacingAndGlyphs">flow</text>
<rect x="0.75" y="0.75" width="518.5" height="647.5" fill="none" stroke="#000" stroke-width="1.5"/>
</svg>
</body></html>
